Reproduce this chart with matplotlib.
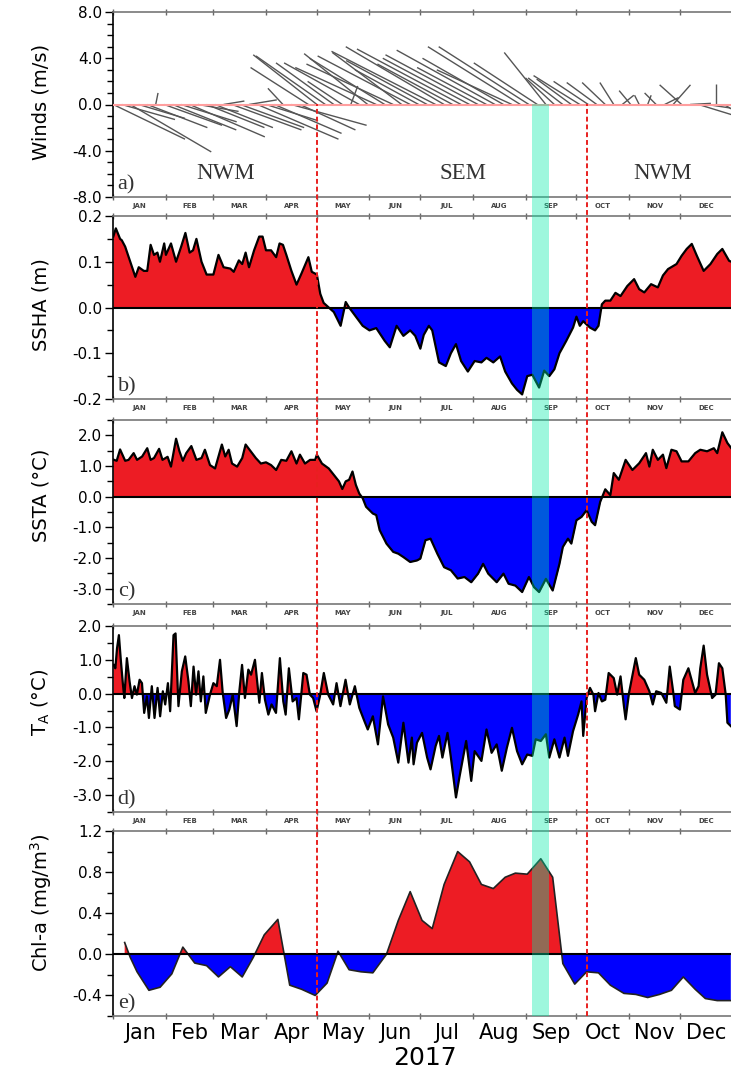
"""Monsoon panels for 2017: wind sticks, SSHA, SSTA, TA and Chl-a anomalies."""
import numpy as np
import matplotlib

matplotlib.use("Agg")
import matplotlib.pyplot as plt  # noqa: E402
import matplotlib.transforms as mtransforms  # noqa: E402
from matplotlib.collections import LineCollection  # noqa: E402
from matplotlib.lines import Line2D  # noqa: E402
from matplotlib.patches import Rectangle  # noqa: E402
from matplotlib.ticker import FormatStrFormatter, MultipleLocator  # noqa: E402

plt.rcParams["axes.unicode_minus"] = False
plt.rcParams["font.family"] = ["DejaVu Sans"]

MONTHS = ["Jan", "Feb", "Mar", "Apr", "May", "Jun",
          "Jul", "Aug", "Sep", "Oct", "Nov", "Dec"]
MONTH_START = [0, 31, 59, 90, 120, 151, 181, 212, 243, 273, 304, 334, 365]

# monsoon transitions (day of year) and the highlighted window
TRANSITIONS = [120, 279]
HIGHLIGHT = (247, 257)
SEASONS = [("NWM", 66), ("SEM", 206), ("NWM", 324)]

# --- a) wind sticks, 5-day means (m/s)
wind_day = list(range(0, 365, 5))
wind_u = [6.2, 4.6, 7.0, 4.0, 5.2, 0.2, 5.0, 5.5, 4.8, 6.5, 3.5, 5.0,
          5.0, 1.8, 6.0, 5.5, 2.4, 7.0, 4.5, 5.8, -1.3, 6.5, 4.8, -5.0,
          -5.5, -6.0, -5.0, -3.0, 0.6, -6.5, -5.5, -7.0, -6.5, -7.5, -6.0, -8.0,
          -5.5, -7.0, -9.0, -8.5, -6.5, -9.0, -7.5, -8.0, -6.0, -8.5, -7.0, -6.5,
          -8.0, -7.8, -5.5, -3.6, -2.5, -3.0, -3.0, -4.0, -3.0, -2.6, -2.0, -1.2,
          1.0, -1.0, -0.4, 0.3, -1.0, 1.2, 1.5, -1.9, 1.8, 3.9, 2.0, 0.0, 2.5]
wind_v = [-3.0, -1.3, -4.1, -1.2, -2.0, 1.0, -1.8, -2.2, -1.5, -2.8, -0.6, -2.0,
          -2.0, 0.3, -2.2, -2.0, 0.4, -3.0, -1.4, -2.5, 1.4, -1.8, -2.2, 3.2,
          4.3, 4.2, 3.6, 2.0, 1.6, 3.6, 4.4, 3.2, 4.0, 3.5, 4.5, 4.2,
          3.0, 3.8, 4.6, 5.0, 3.5, 4.8, 4.0, 4.3, 3.2, 4.7, 4.0, 3.0,
          5.0, 5.0, 3.6, 4.5, 2.3, 2.3, 2.2, 2.5, 2.0, 1.9, 1.9, 1.9,
          0.8, 1.2, 0.8, 0.8, 1.0, 0.6, 1.7, 1.7, 0.1, -1.2, -0.3, 1.8, -1.5]
STICK_DAYS_PER_MS = 6.82  # same pixel length for 1 m/s in x and y

# --- b) SSHA (m)
ssha_day = [0, 1.5, 4, 5, 7, 10, 13, 15, 18, 20, 22, 24, 26, 27.5, 30, 31, 34, 37,
            40, 42.5, 45, 47, 49, 52, 55, 59, 62, 65, 69, 71, 74, 76, 78, 80, 83,
            86, 88, 90, 93, 96, 98, 100, 102, 105, 108, 111, 115, 117, 120, 122,
            124, 127, 130, 134, 137, 139, 143, 147, 151, 155, 160, 163, 167, 171,
            175, 178, 181, 183, 186, 188, 192, 196, 199, 202, 205, 209, 213, 217,
            220, 224, 228, 231, 235, 238, 241, 244, 247, 251, 254, 257, 260, 263,
            267, 271, 273, 275, 277, 281, 284, 286, 288, 290, 293, 296, 299, 303,
            307, 310, 313, 317, 321, 324, 327, 332, 335, 338, 341, 344, 348, 352,
            356, 359, 363, 365]
ssha = [0.155, 0.173, 0.15, 0.147, 0.133, 0.10, 0.067, 0.088, 0.08, 0.08, 0.137,
        0.115, 0.12, 0.10, 0.14, 0.115, 0.14, 0.10, 0.133, 0.163, 0.12, 0.125,
        0.15, 0.10, 0.072, 0.072, 0.115, 0.088, 0.085, 0.078, 0.103, 0.095, 0.12,
        0.088, 0.125, 0.155, 0.155, 0.125, 0.125, 0.11, 0.14, 0.137, 0.115, 0.08,
        0.05, 0.075, 0.11, 0.078, 0.072, 0.03, 0.01, 0.0, -0.01, -0.04, 0.012,
        0.0, -0.02, -0.04, -0.05, -0.045, -0.073, -0.087, -0.04, -0.062, -0.05,
        -0.062, -0.09, -0.06, -0.04, -0.05, -0.12, -0.128, -0.10, -0.08, -0.117,
        -0.14, -0.117, -0.12, -0.11, -0.12, -0.107, -0.14, -0.166, -0.18, -0.19,
        -0.15, -0.147, -0.175, -0.138, -0.15, -0.135, -0.10, -0.073, -0.044,
        -0.02, -0.04, -0.03, -0.044, -0.05, -0.04, 0.007, 0.015, 0.015, 0.032,
        0.025, 0.047, 0.062, 0.04, 0.033, 0.051, 0.044, 0.07, 0.084, 0.095,
        0.113, 0.128, 0.139, 0.113, 0.08, 0.095, 0.117, 0.128, 0.102, 0.099]

# --- c) SSTA (degC)
ssta_day = [0, 2, 4, 7, 9, 12, 14, 17, 20, 22, 24, 27, 29, 32, 34, 37, 39, 41, 43,
            46, 49, 52, 54, 57, 60, 64, 66, 68, 70, 73, 76, 78, 81, 84, 87, 90,
            93, 96, 99, 102, 105, 108, 110, 113, 116, 119, 120, 123, 127, 130,
            133, 135, 137, 139, 141, 143, 145, 147, 149, 153, 155, 157, 161, 165,
            168, 171, 175, 179, 181, 184, 187, 191, 195, 199, 203, 207, 211, 215,
            218, 221, 226, 230, 233, 237, 241, 245, 248, 251, 255, 259, 263, 265,
            268, 270, 273, 276, 279, 282, 284, 287, 290, 293, 295, 298, 302, 306,
            310, 314, 316, 318, 321, 324, 326, 329, 332, 335, 339, 343, 346, 350,
            354, 356, 359, 362, 365]
ssta = [1.21, 1.17, 1.54, 1.17, 1.2, 1.42, 1.2, 1.31, 1.58, 1.2, 1.26, 1.56, 1.2,
        1.3, 0.98, 1.89, 1.48, 1.17, 1.42, 1.65, 1.2, 1.26, 1.53, 1.03, 0.92,
        1.7, 1.31, 1.53, 1.08, 0.98, 1.26, 1.7, 1.48, 1.26, 1.08, 1.12, 1.03,
        0.87, 1.2, 1.17, 1.48, 1.08, 1.37, 1.08, 1.2, 1.2, 1.37, 1.08, 0.92,
        0.71, 0.5, 0.25, 0.5, 0.55, 0.82, 0.38, 0.1, -0.05, -0.33, -0.55, -0.6,
        -1.09, -1.53, -1.8, -1.86, -1.97, -2.13, -2.08, -2.02, -1.42, -1.37,
        -1.86, -2.3, -2.4, -2.67, -2.62, -2.79, -2.51, -2.19, -2.51, -2.79,
        -2.51, -2.84, -2.9, -3.11, -2.62, -2.95, -3.11, -2.68, -3.06, -2.19,
        -1.64, -1.37, -1.53, -0.77, -0.66, -0.44, -0.82, -0.93, -0.17, 0.24,
        0.05, 0.77, 0.55, 1.2, 0.87, 1.09, 1.42, 0.98, 1.53, 1.2, 1.37, 0.93,
        1.53, 1.48, 1.15, 1.15, 1.42, 1.53, 1.48, 1.58, 1.42, 2.1, 1.75, 1.53]

# --- d) TA (degC)
ta_day = [0.2, 1.2, 2.2, 3.3, 4.5, 5.7, 6.5, 8.0, 9.6, 11, 12.5, 13.9, 15.5, 16.9,
          18.2, 19.8, 21, 22.7, 24.3, 26.1, 27.6, 29.2, 30.6, 32.2, 33.5, 35.5,
          36.7, 38.4, 40.4, 42.4, 44.3, 45.7, 47.3, 48.8, 50.2, 51.6, 53.1, 54.5,
          57, 59, 61, 62.9, 64.5, 66.5, 68.4, 70.4, 72.7, 74.3, 75.9, 77.6, 79.6,
          81.2, 83.5, 86.1, 87.6, 89.4, 91.4, 93.3, 95.9, 98.2, 100.2, 101.6,
          103.5, 105.7, 108, 109.4, 112, 113.9, 115.9, 117.8, 119.8, 121.8,
          124.1, 126.7, 129.6, 131.6, 133.9, 136.9, 139.4, 142.4, 145, 148, 150,
          153, 156, 159, 162, 165, 168, 171, 174, 176, 177, 179, 182, 185, 187,
          190, 192, 194, 197, 199, 202, 204, 208, 211, 213, 217, 220, 223, 226,
          229, 232, 235, 238, 241, 244, 247, 249, 252, 255, 257, 260, 263, 266,
          268, 271, 274, 276, 277, 279, 281, 283, 284, 286, 288, 290, 292, 295,
          297, 299, 301, 302, 304, 308, 310, 313, 316, 318, 320, 323, 326, 328,
          330, 331, 334, 336, 339, 343, 345, 346, 348, 350, 353, 355, 357, 359,
          361, 362, 364]
ta = [0.85, 0.75, 1.34, 1.73, 0.95, 0.26, -0.13, 1.05, 0.36, -0.13, 0.22, -0.03,
      0.41, 0.31, -0.57, -0.08, -0.72, 0.22, -0.72, 0.17, -0.67, 0.07, -0.32,
      0.31, -0.52, 1.73, 1.78, -0.37, 0.66, 1.1, 0.36, -0.37, 0.8, -0.03, 0.66,
      -0.23, 0.51, -0.57, -0.03, 0.31, 0.22, 1.0, 0.02, -0.72, -0.47, -0.03,
      -0.96, 0.07, 0.85, -0.13, 0.71, 0.56, 1.0, -0.27, 0.61, -0.18, -0.62,
      -0.32, -0.57, 1.05, -0.23, -0.62, 0.75, -0.23, -0.13, -0.76, 0.61, 0.56,
      -0.03, -0.13, -0.52, -0.08, 0.61, -0.03, -0.32, 0.31, -0.37, 0.41, -0.32,
      0.22, -0.42, -0.81, -1.06, -0.67, -1.5, -0.08, -0.91, -1.3, -2.04, -0.86,
      -2.04, -1.3, -2.09, -1.45, -1.16, -1.89, -2.24, -1.55, -1.25, -1.89,
      -1.16, -1.89, -3.07, -2.48, -1.4, -2.58, -1.7, -1.99, -1.06, -1.75, -1.5,
      -2.28, -1.6, -1.01, -1.7, -2.09, -1.8, -1.84, -1.35, -1.4, -1.2, -1.89,
      -1.35, -1.89, -1.3, -1.84, -1.11, -0.62, -0.23, -1.25, -0.13, 0.17, -0.03,
      -0.52, 0.02, -0.23, -0.18, 0.61, 0.46, -0.03, 0.51, -0.37, -0.76, 0.02,
      1.05, 0.56, 0.41, 0.07, -0.32, 0.07, 0.02, -0.27, 0.8, 0.07, -0.37, -0.47,
      0.41, 0.75, 0.02, 0.22, 0.75, 1.42, 0.56, -0.13, -0.03, 0.9, 0.75, -0.03,
      -0.86, -0.96]

# --- e) Chl-a anomaly (mg/m3), ~weekly
chl_day = [6.7, 10, 14, 21, 27.6, 34.5, 41, 48, 55, 62, 69, 76, 82.5, 89, 97,
           104, 111, 119, 126, 132.5, 139, 146, 153, 161, 168, 175, 182, 188,
           195, 203, 210, 217, 224, 231, 237, 244, 252, 259, 265, 272, 279, 286,
           293, 301, 308, 315, 322, 329, 336, 343, 349, 356, 364]
chl = [0.115, -0.03, -0.17, -0.35, -0.32, -0.19, 0.07, -0.085, -0.11, -0.22,
       -0.12, -0.22, -0.03, 0.19, 0.34, -0.3, -0.34, -0.4, -0.28, 0.03, -0.15,
       -0.17, -0.18, 0.0, 0.33, 0.61, 0.33, 0.25, 0.68, 1.0, 0.9, 0.68, 0.64,
       0.75, 0.79, 0.78, 0.93, 0.75, -0.09, -0.29, -0.17, -0.18, -0.3, -0.38,
       -0.39, -0.42, -0.39, -0.35, -0.22, -0.34, -0.43, -0.45, -0.45]

RED = "#ed1c24"
BLUE = "#0000ff"
BAND = (0.0, 0.92, 0.65)
W, H = 731, 1072
SERIF = ["Liberation Serif", "DejaVu Serif"]

fig = plt.figure(figsize=(W / 100, H / 100), dpi=100)

# (top px, bottom px, ylim, major, minor, ylabel, ylabel centre px)
PANELS = [
    (12, 197, (-8, 8), 4, 1, "Winds (m/s)", 102),
    (216, 399, (-0.2, 0.2), 0.1, 0.05, "SSHA (m)", 305),
    (420, 604, (-3.5, 2.5), 1.0, 0.5, "SSTA (\u00b0C)", 495),
    (626, 812, (-3.5, 2.0), 1.0, 0.5, "T$_\\mathregular{A}$ (\u00b0C)", 702),
    (831, 1016, (-0.6, 1.2), 0.4, 0.2, "Chl-a (mg/m$^\\mathregular{3}$)", 903),
]

axes = []
for i, (top, bot, ylim, major, minor, label, ly) in enumerate(PANELS):
    ax = fig.add_axes([113.3 / W, 1 - bot / H, (732.5 - 113.3) / W, (bot - top) / H])
    ax.set_xlim(0, 365)
    ax.set_ylim(*ylim)
    ax.yaxis.set_major_locator(MultipleLocator(major))
    ax.yaxis.set_minor_locator(MultipleLocator(minor))
    ax.yaxis.set_major_formatter(FormatStrFormatter("%.1f"))
    ax.tick_params(axis="y", which="major", direction="out", length=6, width=1,
                   labelsize=11, pad=2)
    ax.tick_params(axis="y", which="minor", direction="out", length=4, width=1)
    ax.set_xticks(MONTH_START)
    ax.tick_params(axis="x", which="major", direction="inout", length=5, width=1,
                   top=True, bottom=True, labelbottom=False, color="#666666")
    ax.spines["right"].set_visible(False)
    for s in ("top", "bottom"):
        ax.spines[s].set_color("#777777")
        ax.spines[s].set_linewidth(1.2)
    ax.spines["left"].set_linewidth(1.2)
    fig.text(41 / W, 1 - ly / H, label, rotation=90, ha="center", va="center",
             fontsize=14)
    ax.text(0.007, 0.012, "abcde"[i] + ")", transform=ax.transAxes, ha="left",
            va="bottom", family=SERIF, fontsize=16, color="#333333")
    mids = [(MONTH_START[k] + MONTH_START[k + 1]) / 2 for k in range(12)]
    for m, x in zip(MONTHS, mids):
        if i < 4:
            ax.annotate(m.upper(), xy=(x, 0), xycoords=("data", "axes fraction"),
                        xytext=(0, -6.5), textcoords="offset points", ha="center",
                        va="center", fontsize=5, fontweight="bold", color="#444444")
        else:
            ax.annotate(m, xy=(x, 0), xycoords=("data", "axes fraction"),
                        xytext=(0, -12.5), textcoords="offset points", ha="center",
                        va="center", fontsize=15,
                        family=["Liberation Sans Narrow", "DejaVu Sans"])
    axes.append(ax)

# a) stick plot
ax = axes[0]
segs = [[(d, 0.0), (d + u * STICK_DAYS_PER_MS, v)]
        for d, u, v in zip(wind_day, wind_u, wind_v)]
ax.add_collection(LineCollection(segs, colors="#555555", linewidths=1.0))
ax.axhline(0, color="#ff9e9e", lw=1.5, zorder=3)
for name, x in SEASONS:
    ax.text(x, -6.0, name, ha="center", va="center", family=SERIF,
            fontsize=16.5, color="#333333")


def anomaly(ax, x, y, lw=1.6, line_color="k"):
    x = np.asarray(x, dtype=float)
    y = np.asarray(y, dtype=float)
    ax.fill_between(x, y, 0, where=y >= 0, interpolate=True, color=RED, lw=0)
    ax.fill_between(x, y, 0, where=y <= 0, interpolate=True, color=BLUE, lw=0)
    ax.plot(x, y, color=line_color, lw=lw, zorder=3)
    ax.axhline(0, color="k", lw=1.5, zorder=4)


anomaly(axes[1], ssha_day, ssha)
anomaly(axes[2], ssta_day, ssta)
anomaly(axes[3], ta_day, ta)
anomaly(axes[4], chl_day, chl, lw=1.2, line_color="#222222")

# transition lines and highlight band run from the wind zero line to the bottom
blend = mtransforms.blended_transform_factory(axes[-1].transData, fig.transFigure)
y0, y1 = 1 - 1016 / H, 1 - 104 / H
for d in TRANSITIONS:
    fig.add_artist(Line2D([d, d], [y0, y1], transform=blend, color="#e8201f",
                          lw=1.4, ls=(0, (2.5, 1.5)), zorder=5))
fig.add_artist(Rectangle((HIGHLIGHT[0], y0), HIGHLIGHT[1] - HIGHLIGHT[0], y1 - y0,
                         transform=blend, facecolor=BAND, alpha=0.38, lw=0,
                         zorder=6))

fig.text(425 / W, 1 - 1058 / H, "2017", ha="center", va="center", fontsize=18)

fig.savefig("out.png", dpi=100)
